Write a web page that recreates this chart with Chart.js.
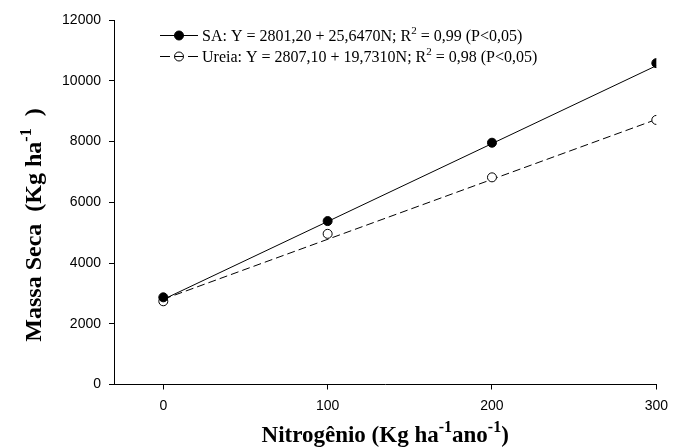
<!DOCTYPE html>
<html>
<head>
<meta charset="utf-8">
<script src="https://cdn.jsdelivr.net/npm/chart.js@4"></script>
<style>
html,body{margin:0;padding:0;background:#fff;}
#c{display:block;}
</style>
</head>
<body>
<canvas id="c" width="676" height="447"></canvas>
<script>
// ---- data ----
const xValues = [0, 100, 200, 300];
const saValues = [2870, 5380, 7960, 10580];
const ureiaValues = [2740, 4960, 6820, 8710];
const fitX = [0, 300];
const saFit = [2801, 10495];
const ureiaFit = [2807, 8726];
const xTicks = [0, 100, 200, 300];
const yTicks = [0, 2000, 4000, 6000, 8000, 10000, 12000];
const saLabel = [["SA: Y = 2801,20 + 25,6470N; R", false], ["2", true], [" = 0,99 (P<0,05)", false]];
const ureiaLabel = [["Ureia: Y = 2807,10 + 19,7310N; R", false], ["2", true], [" = 0,98 (P<0,05)", false]];
const yTitle = [["Massa Seca  (Kg ha", false], ["-1", true], ["  )", false]];
const xTitle = [["Nitrogênio (Kg ha", false], ["-1", true], ["ano", false], ["-1", true], [")", false]];

const pts = (xs, ys) => xs.map((x, i) => ({x: x, y: ys[i]}));

function segWidth(ctx, segs, size, weight, fam) {
  let w = 0;
  for (const [t, sup] of segs) {
    ctx.font = weight + ' ' + (sup ? Math.round(size * 0.68) : size) + 'px ' + fam;
    w += ctx.measureText(t).width;
  }
  return w;
}
function drawSegs(ctx, segs, x, y, size, weight, fam) {
  ctx.textBaseline = 'alphabetic';
  ctx.textAlign = 'left';
  for (const [t, sup] of segs) {
    const s = sup ? Math.round(size * 0.68) : size;
    ctx.font = weight + ' ' + s + 'px ' + fam;
    ctx.fillText(t, x, sup ? y - size * 0.42 : y);
    x += ctx.measureText(t).width;
  }
}

const overlay = {
  id: 'overlay',
  afterDraw(chart) {
    const ctx = chart.ctx;
    const fam = '"Liberation Serif", "Times New Roman", serif';
    ctx.save();
    ctx.fillStyle = '#000';
    ctx.strokeStyle = '#000';
    ctx.lineWidth = 1;
    // legend row 1 (solid line, filled marker)
    const y1 = 35.5, y2 = 56.5;
    ctx.beginPath();
    ctx.moveTo(160, y1); ctx.lineTo(198, y1); ctx.stroke();
    ctx.beginPath();
    ctx.arc(179, y1, 4.5, 0, Math.PI * 2);
    ctx.fill(); ctx.stroke();
    drawSegs(ctx, saLabel, 202, y1 + 5, 16, 'normal', fam);
    // legend row 2 (dashed line, open marker)
    ctx.beginPath();
    ctx.moveTo(160, y2); ctx.lineTo(170, y2);
    ctx.moveTo(174.5, y2); ctx.lineTo(183.5, y2);
    ctx.moveTo(188, y2); ctx.lineTo(198, y2);
    ctx.stroke();
    ctx.beginPath();
    ctx.arc(179, y2, 4.5, 0, Math.PI * 2);
    ctx.stroke();
    drawSegs(ctx, ureiaLabel, 202, y2 + 5, 16, 'normal', fam);
    // x title
    const ts = 23;
    const ca = chart.chartArea;
    const xw = segWidth(ctx, xTitle, ts, 'bold', fam);
    drawSegs(ctx, xTitle, (ca.left + ca.right) / 2 - xw / 2, 442, ts, 'bold', fam);
    // y title
    const ys = 24;
    const yw = segWidth(ctx, yTitle, ys, 'bold', fam);
    ctx.translate(41, 225);
    ctx.rotate(-Math.PI / 2);
    drawSegs(ctx, yTitle, -yw / 2, 0, ys, 'bold', fam);
    ctx.restore();
  }
};

const axisCommon = {
  grid: {display: true, drawOnChartArea: false, drawTicks: true, tickLength: 5, color: '#000', lineWidth: 1},
  border: {display: true, color: '#000', width: 1},
};
const tickFont = {family: '"Liberation Sans", Arial, sans-serif', size: 14};

new Chart(document.getElementById('c'), {
  type: 'scatter',
  data: {
    datasets: [
      {label: 'SA', data: pts(xValues, saValues), showLine: false, pointRadius: 4.5,
       pointBackgroundColor: '#000', pointBorderColor: '#000', pointBorderWidth: 1, order: 1},
      {label: 'Ureia', data: pts(xValues, ureiaValues), showLine: false, pointRadius: 4.5,
       pointBackgroundColor: '#fff', pointBorderColor: '#000', pointBorderWidth: 1, order: 1},
      {label: 'SA fit', data: pts(fitX, saFit), showLine: true, pointRadius: 0,
       borderColor: '#000', borderWidth: 1, order: 2},
      {label: 'Ureia fit', data: pts(fitX, ureiaFit), showLine: true, pointRadius: 0,
       borderColor: '#000', borderWidth: 1, borderDash: [8, 4], order: 2}
    ]
  },
  options: {
    responsive: false,
    animation: false,
    devicePixelRatio: 1,
    layout: {padding: {left: 0, right: 15, top: 20, bottom: 0}},
    plugins: {legend: {display: false}, tooltip: {enabled: false}},
    scales: {
      x: Object.assign({}, axisCommon, {
        type: 'linear', min: -30, max: 300,
        afterBuildTicks: s => { s.ticks = xTicks.map(v => ({value: v})); },
        afterFit: s => { s.height = 62.5; },
        ticks: {color: '#000', font: tickFont, padding: 8, maxRotation: 0, callback: v => String(v)}
      }),
      y: Object.assign({}, axisCommon, {
        type: 'linear', min: 0, max: 12000,
        afterBuildTicks: s => { s.ticks = yTicks.map(v => ({value: v})); },
        afterFit: s => { s.width = 114; },
        ticks: {color: '#000', font: tickFont, padding: 8, callback: v => String(v)}
      })
    }
  },
  plugins: [overlay]
});
</script>
</body>
</html>
